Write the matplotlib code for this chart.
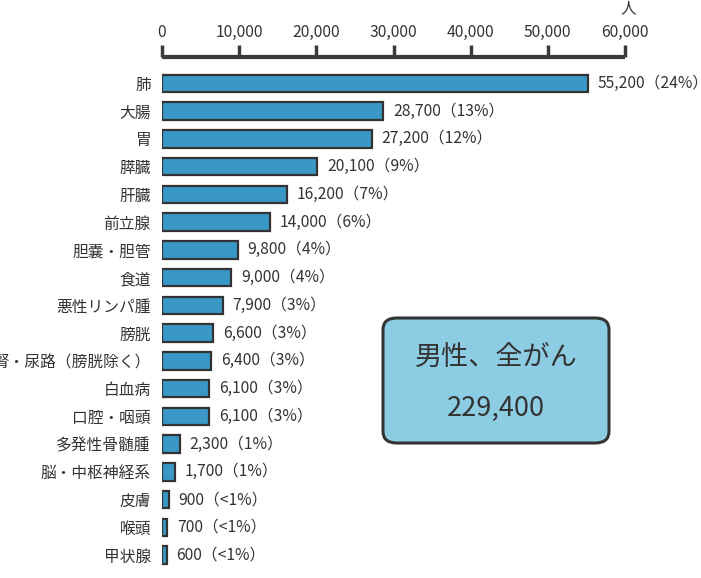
import matplotlib
matplotlib.use("Agg")
import matplotlib.pyplot as plt
from matplotlib.patches import FancyBboxPatch

plt.rcParams['font.family'] = ['Noto Sans CJK JP', 'DejaVu Sans']

categories = ["肺", "大腸", "胃", "膵臓", "肝臓", "前立腺", "胆嚢・胆管", "食道", "悪性リンパ腫",
              "膀胱", "腎・尿路（膀胱除く）", "白血病", "口腔・咽頭", "多発性骨髄腫", "脳・中枢神経系",
              "皮膚", "喉頭", "甲状腺"]
values = [55200, 28700, 27200, 20100, 16200, 14000, 9800, 9000, 7900,
          6600, 6400, 6100, 6100, 2300, 1700, 900, 700, 600]
percents = ["24%", "13%", "12%", "9%", "7%", "6%", "4%", "4%", "3%",
            "3%", "3%", "3%", "3%", "1%", "1%", "<1%", "<1%", "<1%"]
xticks = [0, 10000, 20000, 30000, 40000, 50000, 60000]
total_title = "男性、全がん"
total_value = "229,400"
unit = "人"

txt = "#333333"
fs = 11.3
fig = plt.figure(figsize=(7.01, 5.78), dpi=100)
ax = fig.add_axes([162/701, 1-569/578, (625-162)/701, (569-57)/578])

y = list(range(len(categories)))
ax.barh(y, values, height=0.63, color="#3a98c6", edgecolor="#333333", linewidth=1.6, zorder=3)
ax.set_ylim(17.5, -0.95)
ax.set_xlim(0, 60000)

for yi, v, p in zip(y, values, percents):
    ax.annotate(f"{v:,}（{p}）", xy=(v, yi), xytext=(7, 0), textcoords="offset points",
                va="center", ha="left", fontsize=fs, color=txt)

ax.set_yticks(y)
ax.set_yticklabels(categories, fontsize=fs, color=txt)
ax.tick_params(axis="y", length=0, pad=8)

ax.xaxis.tick_top()
ax.set_xticks(xticks)
ax.set_xticklabels([f"{t:,}" for t in xticks], fontsize=fs, color=txt)
ax.tick_params(axis="x", direction="out", length=8.5, width=2.5, color="#3a3a3a", pad=3)
for s in ["bottom", "left", "right"]:
    ax.spines[s].set_visible(False)
ax.spines["top"].set_linewidth(3)
ax.spines["top"].set_color("#3a3a3a")
ax.spines["top"].set_capstyle("butt")

fig.text(628/701, 1-9/578, unit, ha="center", va="center", fontsize=fs, color=txt)

box = FancyBboxPatch((383/701, 1-443/578), (609-383)/701, (443-318)/578,
                     boxstyle="round,pad=0,rounding_size=0.02", transform=fig.transFigure,
                     facecolor="#8dcde3", edgecolor="#333333", linewidth=2.2, zorder=5)
fig.patches.append(box)
fig.text(496/701, 1-357/578, total_title, ha="center", va="center", fontsize=19.5, color=txt, zorder=6)
fig.text(496/701, 1-408/578, total_value, ha="center", va="center", fontsize=19.5, color=txt, zorder=6)

fig.savefig("out.png", dpi=100)
